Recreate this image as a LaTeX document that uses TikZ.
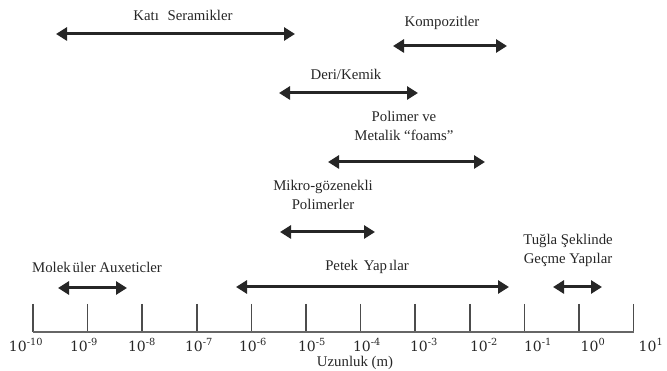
\documentclass[tikz,border=0pt]{standalone}
\usepackage{fontspec}
\setmainfont{Liberation Serif}
\newfontfamily\axisfont{DejaVu Serif}
\usetikzlibrary{arrows.meta}
\begin{document}
\begin{tikzpicture}[x=1pt,y=-1pt,
  lbl/.style={font=\fontsize{14.8}{19}\selectfont, text=black!85, inner sep=0pt, align=center},
  axlbl/.style={font=\axisfont\fontsize{14}{16}\selectfont, text=black!85, inner sep=0pt},
  rng/.style={line width=3pt, draw=black!85, {Triangle[length=11pt,width=13pt]}-{Triangle[length=11pt,width=13pt]}},
  axtick/.style={line width=1.6pt, draw=black!70},
  axline/.style={line width=1.6pt, draw=black!60}
]
\useasboundingbox (0,0) rectangle (667,371);

% labels
\node[lbl] (ks) at (183,15) {Katı\hspace{5pt} Seramikler};
\node[lbl] (komp) at (442,23) {Kompozitler};
\node[lbl] (deri) at (346,74) {Deri/Kemik};
\node[lbl] (pol) at (404,126) {Polimer ve\\Metalik “foams”};
\node[lbl] (mikro) at (323,195) {Mikro-gözenekli\\Polimerler};
\node[lbl] (tugla) at (568,250) {Tuğla Şeklinde\\Geçme Yapılar};
\node[lbl] (molek) at (97,267) {Molek\hspace{2pt}üler Auxeticler};
\node[lbl] (petek) at (367,267) {Petek\hspace{2pt} Yap\hspace{2pt}ılar};

% range arrow ends
\coordinate (ksA) at (56,34);   \coordinate (ksB) at (295,34);
\coordinate (koA) at (393,46);  \coordinate (koB) at (507,46);
\coordinate (deA) at (279,93);  \coordinate (deB) at (418,93);
\coordinate (poA) at (328,162); \coordinate (poB) at (485,162);
\coordinate (miA) at (280,232); \coordinate (miB) at (375,232);
\coordinate (tuA) at (553,287); \coordinate (tuB) at (602,287);
\coordinate (moA) at (58,288);  \coordinate (moB) at (127,288);
\coordinate (peA) at (236,287); \coordinate (peB) at (509,287);

\draw[rng] (ksA) -- (ksB);
\draw[rng] (koA) -- (koB);
\draw[rng] (deA) -- (deB);
\draw[rng] (poA) -- (poB);
\draw[rng] (miA) -- (miB);
\draw[rng] (tuA) -- (tuB);
\draw[rng] (moA) -- (moB);
\draw[rng] (peA) -- (peB);

% axis
\coordinate (ax0) at (33,332);
\coordinate (ax1) at (633.6,332);
\foreach \i in {0,...,11}{
  \draw[axtick] (33+54.6*\i,304) -- (33+54.6*\i,332);
}
\draw[axline] (ax0) -- (ax1);

% axis labels
\node[axlbl] (l0) at (26,345) {10\textsuperscript{-10}};
\node[axlbl] (l1) at (84,345) {10\textsuperscript{-9}};
\node[axlbl] (l2) at (142,345) {10\textsuperscript{-8}};
\node[axlbl] (l3) at (199,345) {10\textsuperscript{-7}};
\node[axlbl] (l4) at (253,345) {10\textsuperscript{-6}};
\node[axlbl] (l5) at (312,345) {10\textsuperscript{-5}};
\node[axlbl] (l6) at (367,345) {10\textsuperscript{-4}};
\node[axlbl] (l7) at (424,345) {10\textsuperscript{-3}};
\node[axlbl] (l8) at (484,345) {10\textsuperscript{-2}};
\node[axlbl] (l9) at (538,345) {10\textsuperscript{-1}};
\node[axlbl] (l10) at (593,345) {10\textsuperscript{0}};
\node[axlbl] (l11) at (651,345) {10\textsuperscript{1}};

\node[lbl] (uz) at (355,363) {Uzunluk (m)};
\end{tikzpicture}
\end{document}
